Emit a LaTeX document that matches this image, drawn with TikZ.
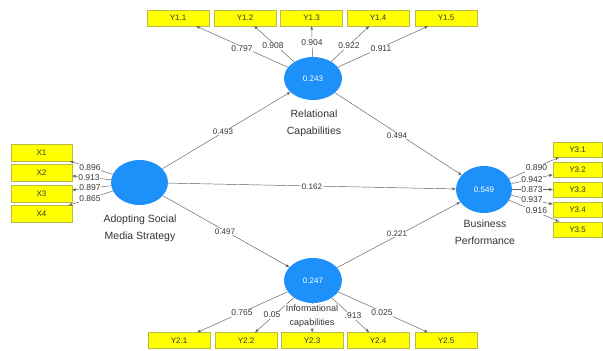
\documentclass[tikz,border=0pt]{standalone}
\usepackage{fontspec}
\setmainfont{Liberation Sans}
\usetikzlibrary{shapes.geometric,arrows.meta}
\definecolor{lvblue}{RGB}{30,144,250}
\definecolor{boxyellow}{RGB}{255,255,0}
\definecolor{boxedge}{RGB}{185,185,70}
\definecolor{txt}{RGB}{55,55,55}
\definecolor{lnk}{RGB}{95,95,95}
\begin{document}
\begin{tikzpicture}[x=1pt,y=-1pt,
 lv/.style={ellipse,fill=lvblue,draw=none,inner sep=0pt,text=white,font=\fontsize{8}{9}\selectfont},
 ind/.style={rectangle,fill=boxyellow,draw=boxedge,line width=0.4pt,minimum width=62pt,minimum height=16pt,inner sep=0pt,text=txt,font=\fontsize{8}{9}\selectfont},
 indr/.style={ind,minimum width=49pt,minimum height=15.5pt},
 lname/.style={text=black!80,font=\fontsize{10.5}{17}\selectfont,align=center,inner sep=1pt},
 ld/.style={fill=white,inner sep=0.6pt,text=txt,font=\fontsize{8.5}{9}\selectfont},
 pc/.style={fill=white,inner sep=0.6pt,text=txt,font=\fontsize{8}{9}\selectfont},
 link/.style={draw=lnk,line width=0.45pt,-{Stealth[length=4pt,width=3pt]}},
]
\fill[white] (0,0) rectangle (603,351);
\useasboundingbox (0,0) rectangle (603,351);

% latent variables
\node[lv,minimum width=58pt,minimum height=43pt] (rel) at (313,78.5) {0.243};
\node[lv,minimum width=57pt,minimum height=45pt] (asm) at (139.5,182.5) {};
\node[lv,minimum width=56pt,minimum height=47pt] (bus) at (484,189.5) {0.549};
\node[lv,minimum width=58pt,minimum height=45pt] (inf) at (313,280.5) {0.247};

% indicators top
\node[ind] (y11) at (178,18) {Y1.1};
\node[ind] (y12) at (245,18) {Y1.2};
\node[ind] (y13) at (311.5,18) {Y1.3};
\node[ind] (y14) at (378,18) {Y1.4};
\node[ind] (y15) at (446,18) {Y1.5};
% indicators bottom
\node[ind] (y21) at (179,340.5) {Y2.1};
\node[ind] (y22) at (246,340.5) {Y2.2};
\node[ind] (y23) at (312,340.5) {Y2.3};
\node[ind] (y24) at (378,340.5) {Y2.4};
\node[ind] (y25) at (446,340.5) {Y2.5};
% indicators left
\node[ind,minimum width=61pt,minimum height=17pt] (x1) at (41.5,152.5) {X1};
\node[ind,minimum width=61pt,minimum height=17pt] (x2) at (41.5,173) {X2};
\node[ind,minimum width=61pt,minimum height=17pt] (x3) at (41.5,193.5) {X3};
\node[ind,minimum width=61pt,minimum height=17pt] (x4) at (41.5,214) {X4};
% indicators right
\node[indr] (y31) at (577.5,149.5) {Y3.1};
\node[indr] (y32) at (577.5,169.5) {Y3.2};
\node[indr] (y33) at (577.5,189.5) {Y3.3};
\node[indr] (y34) at (577.5,209.5) {Y3.4};
\node[indr] (y35) at (577.5,229.5) {Y3.5};

% outer model connectors
\foreach \t in {y11,y12,y13,y14,y15} \draw[link] (rel) -- (\t);
\foreach \t in {y21,y22,y23,y24,y25} \draw[link] (inf) -- (\t);
\foreach \t in {x1,x2,x3,x4} \draw[link] (asm) -- (\t);
\foreach \t in {y31,y32,y33,y34,y35} \draw[link] (bus) -- (\t);

% inner model
\draw[link] (asm) -- (rel);
\draw[link] (asm) -- (inf);
\draw[link] (asm) -- (bus);
\draw[link] (rel) -- (bus);
\draw[link] (inf) -- (bus);

% loadings
\node[ld] (l11) at (242,49) {0.797};
\node[ld] (l12) at (273,46) {0.908};
\node[ld] (l13) at (312,43) {0.904};
\node[ld] (l14) at (349,46) {0.922};
\node[ld] (l15) at (381,49) {0.911};
\node[ld] (l1) at (90,167.5) {0.896};
\node[ld] (l2) at (89,178) {0.913};
\node[ld] (l3) at (90,188) {0.897};
\node[ld] (l4) at (90,199) {0.865};
\node[ld] (l31) at (536.5,168) {0.890};
\node[ld] (l32) at (532,180) {0.942};
\node[ld] (l33) at (532,190) {0.873};
\node[ld] (l34) at (532,200) {0.937};
\node[ld] (l35) at (536.5,211) {0.916};
\node[ld] (l21) at (242,313) {0.765};
\node[ld] (l22) at (272,315) {0.05};
\node[ld] (l24) at (353,316) {.913};
\node[ld] (l25) at (382,313) {0.025};

% path coefficients
\node[pc] (p1) at (223,132) {0.493};
\node[pc] (p2) at (397,136) {0.494};
\node[pc] (p3) at (312,187) {0.162};
\node[pc] (p4) at (225,232) {0.497};
\node[pc] (p5) at (397,234) {0.221};

% latent names
\node[lname] (nrel) at (314,123.5) {Relational\\Capabilities};
\node[lname] (nasm) at (140,228.5) {Adopting Social\\Media Strategy};
\node[lname] (nbus) at (485,232) {Business\\Performance};
\node[lname,fill=white,font=\fontsize{9}{14}\selectfont,inner sep=0.5pt] (ninf) at (312,316) {Informational\\capabilities};
\end{tikzpicture}
\end{document}
